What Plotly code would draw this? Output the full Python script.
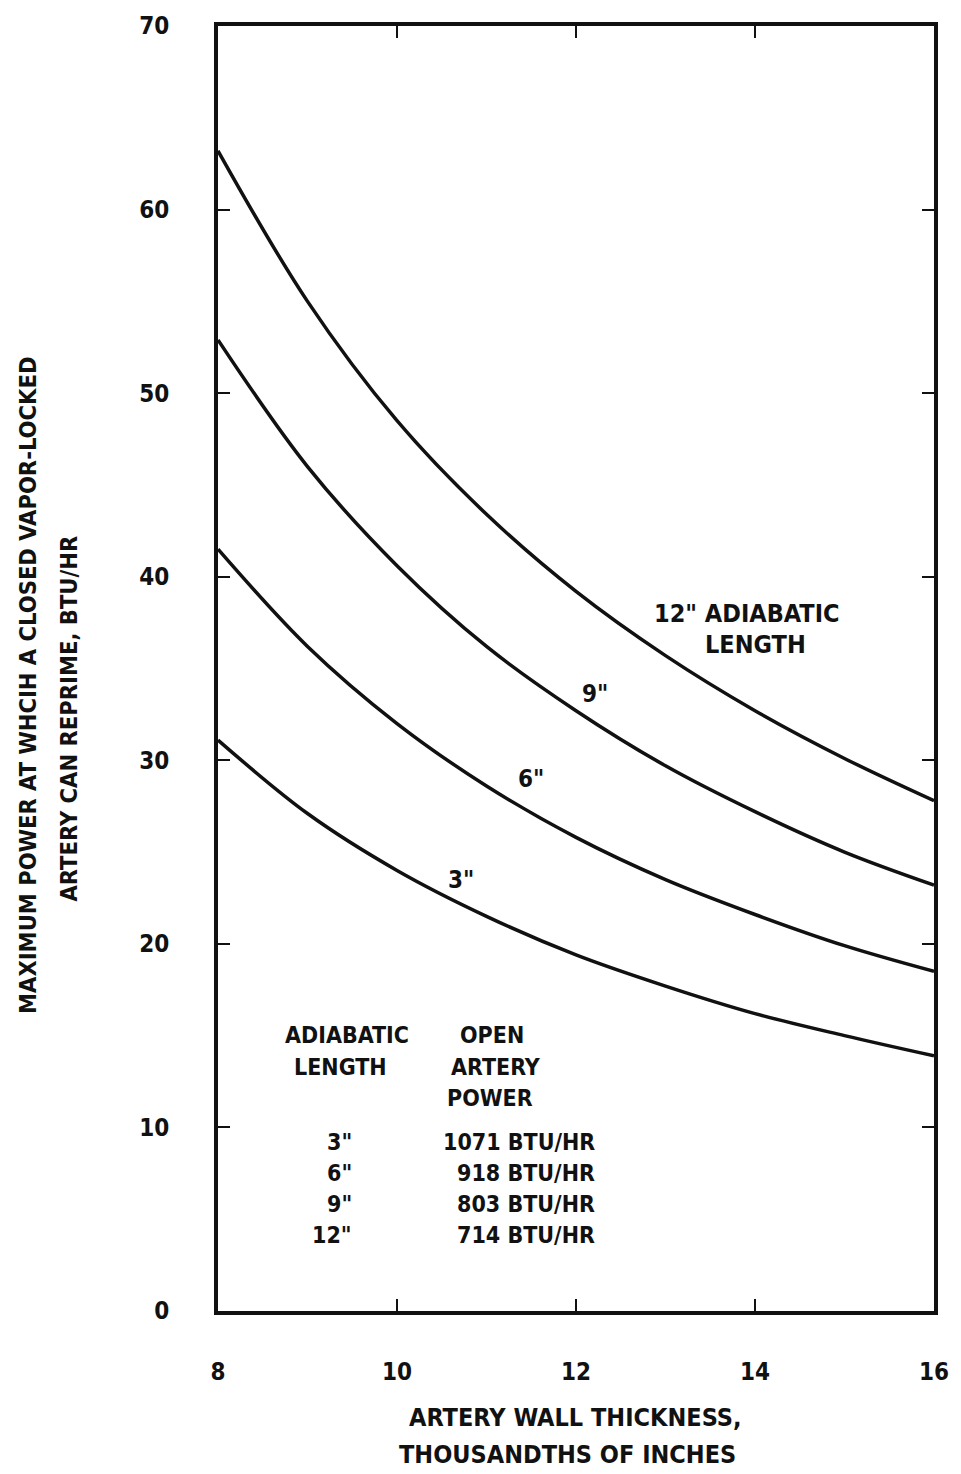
import plotly.graph_objects as go

# ---- data ----
thickness = [8, 9, 10, 11, 12, 13, 14, 15, 16]
power_12in = [63.2, 55.0, 48.5, 43.4, 39.2, 35.7, 32.7, 30.1, 27.8]
power_9in = [52.9, 46.0, 40.6, 36.2, 32.7, 29.7, 27.2, 25.0, 23.2]
power_6in = [41.5, 36.2, 32.0, 28.6, 25.8, 23.5, 21.6, 19.9, 18.5]
power_3in = [31.1, 27.1, 24.0, 21.5, 19.4, 17.7, 16.2, 15.0, 13.9]

x_ticks = [8, 10, 12, 14, 16]
y_ticks = [0, 10, 20, 30, 40, 50, 60, 70]

table_lengths = ['3"', '6"', '9"', '12"']
table_power = ["1071 BTU/HR", "918 BTU/HR", "803 BTU/HR", "714 BTU/HR"]

FONT = "DejaVu Sans Condensed, Liberation Sans Narrow, DejaVu Sans, sans-serif"
BLACK = "#111111"
FSIZE = 24

fig = go.Figure()
for ys in [power_12in, power_9in, power_6in, power_3in]:
    fig.add_trace(go.Scatter(
        x=thickness, y=ys, mode="lines",
        line=dict(color=BLACK, width=3.5, shape="spline", smoothing=1.0),
        showlegend=False, hoverinfo="skip",
    ))

axis_common = dict(
    showgrid=False, zeroline=False,
    showline=True, linecolor=BLACK, linewidth=4, mirror="ticks",
    ticks="inside", ticklen=12, tickwidth=2, tickcolor=BLACK,
    tickfont=dict(family=FONT, size=FSIZE, color=BLACK, weight="bold"),
)

fig.update_xaxes(range=[8, 16], tickvals=x_ticks, ticktext=[str(v) for v in x_ticks],
                 ticklabelstandoff=36, **axis_common)
fig.update_yaxes(range=[0, 70], tickvals=y_ticks, ticktext=[str(v) for v in y_ticks],
                 ticklabelstandoff=40, **axis_common)

pl, pr, pt, pb = 218, 23, 18, 163
pw, ph = 961 - pl - pr, 1474 - pt - pb


def paper_x(px):
    return (px - pl) / pw


def paper_y(py):
    return 1 - (py - pt) / ph


def txt(text, x, y, xanchor="center", xref="x", yref="y", angle=0, size=FSIZE):
    fig.add_annotation(
        text=text, x=x, y=y, xref=xref, yref=yref, showarrow=False,
        xanchor=xanchor, yanchor="middle", textangle=angle,
        font=dict(family=FONT, size=size, color=BLACK, weight="bold"),
    )


# curve labels
txt('12" ADIABATIC', 13.91, 38.0, size=25)
txt("LENGTH", 14.0, 36.3, size=25)
txt('9"', 12.21, 33.6, size=24)
txt('6"', 11.5, 29.0, size=24)
txt('3"', 10.71, 23.5, size=24)

# table
TS = 23
txt("ADIABATIC", 9.44, 15.06, size=TS)
txt("LENGTH", 9.37, 13.27, size=TS)
txt("OPEN", 11.06, 15.06, size=TS)
txt("ARTERY", 11.11, 13.27, size=TS)
txt("POWER", 11.04, 11.59, size=TS)
row_y = [9.21, 7.53, 5.85, 4.12]
for L, P, yy in zip(table_lengths, table_power, row_y):
    txt(L, 9.52, yy, xanchor="right", size=TS)
    txt(P, 12.24, yy, xanchor="right", size=TS)

# x-axis title (two lines)
txt("ARTERY WALL THICKNESS,", paper_x(577), paper_y(1418), xref="paper", yref="paper", size=25)
txt("THOUSANDTHS OF INCHES", paper_x(569), paper_y(1455), xref="paper", yref="paper", size=25)

# y-axis title (two rotated lines)
txt("MAXIMUM POWER AT WHCIH A CLOSED VAPOR-LOCKED", paper_x(27), paper_y(682),
    xref="paper", yref="paper", angle=-90, size=23.5)
txt("ARTERY CAN REPRIME, BTU/HR", paper_x(68), paper_y(715),
    xref="paper", yref="paper", angle=-90, size=23.5)

fig.update_layout(
    width=961, height=1474,
    margin=dict(l=pl, r=pr, t=pt, b=pb, pad=0),
    paper_bgcolor="white", plot_bgcolor="white",
    showlegend=False,
)

fig.write_html("out.html")
